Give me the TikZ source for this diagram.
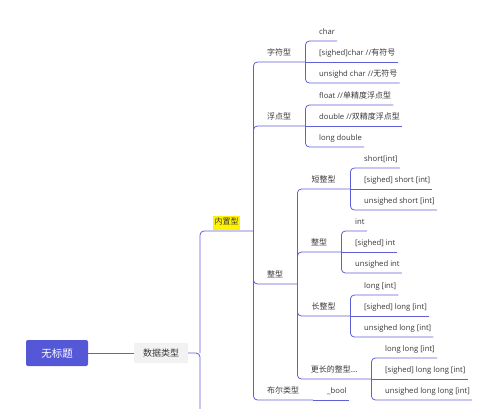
\documentclass[tikz,border=0pt]{standalone}
\usepackage{fontspec}
\newfontfamily\cjk{Noto Sans CJK SC}
\newfontfamily\latf{Open Sans}
\newcommand\zh[1]{{\cjk\fontsize{8}{9}\selectfont #1}}
\definecolor{ln}{HTML}{5F5FD8}
\definecolor{rootc}{HTML}{5558D6}
\definecolor{txt}{HTML}{383838}
\definecolor{dtbg}{HTML}{F2F2F2}
\definecolor{hl}{HTML}{FFF200}
\begin{document}
\begin{tikzpicture}[x=1pt,y=-1pt,
  base/.style={font=\cjk\fontsize{8}{9}\selectfont, text=txt, inner xsep=0pt, inner ysep=4pt, text height=7pt, text depth=2pt, anchor=south west},
  leaf/.style={base, font=\latf\fontsize{7.7}{9}\selectfont, execute at begin node={\hspace*{14pt}}, execute at end node={\hspace*{2pt}}},
  par/.style={base},
  rootbox/.style={fill=rootc, rounded corners=2pt, minimum width=62pt, minimum height=26pt, text=white, font=\cjk\fontsize{10.5}{12}\selectfont, inner sep=0pt},
  dtbox/.style={fill=dtbg, rounded corners=1pt, minimum width=54pt, minimum height=20pt, text=txt, font=\cjk\fontsize{9}{10}\selectfont, inner sep=0pt},
  conn/.style={draw=ln, line width=0.8pt, rounded corners=4pt}]
\useasboundingbox (0,0) rectangle (500,408);
% root and first level
\node[rootbox] (root) at (57,353) {无标题};
\node[dtbox] (dt) at (161,353) {数据类型};
\coordinate (j) at (200,353);
\coordinate (jend) at (200,412);
\node[par, minimum width=53pt] (nz) at (200,231) {\setlength{\fboxsep}{0pt}\colorbox{hl}{\rule[-5pt]{0pt}{14pt}\hspace*{1.5pt}内置型\hspace*{1.5pt}}};
% second level
\node[par, minimum width=52pt] (zf) at (253,62) {字符型};
\node[par, minimum width=52pt] (fd) at (253,126) {浮点型};
\node[par, minimum width=44pt] (zx) at (253,284) {整型};
\node[par, minimum width=60pt] (be) at (253,400) {布尔类型};
% char leaves
\node[leaf] (c1) at (305,41) {char};
\node[leaf] (c2) at (305,62) {[sighed]char //\zh{有符号}};
\node[leaf] (c3) at (305,83) {unsighd char //\zh{无符号}};
% float leaves
\node[leaf] (f1) at (305,105) {float //\zh{单精度浮点型}};
\node[leaf] (f2) at (305,126) {double //\zh{双精度浮点型}};
\node[leaf] (f3) at (305,147) {long double};
% integer sub-branches
\node[par, minimum width=53pt] (dz) at (297,189) {短整型};
\node[par, minimum width=44pt] (zz) at (297,252) {整型};
\node[par, minimum width=53pt] (cz) at (297,316) {长整型};
\node[par, minimum width=74pt] (gz) at (297,379) {更长的整型...};
\node[leaf] (d1) at (350,168) {short[int]};
\node[leaf] (d2) at (350,189) {[sighed] short [int]};
\node[leaf] (d3) at (350,210) {unsighed short [int]};
\node[leaf] (z1) at (341,231) {int};
\node[leaf] (z2) at (341,252) {[sighed] int};
\node[leaf] (z3) at (341,273) {unsighed int};
\node[leaf] (l1) at (350,295) {long [int]};
\node[leaf] (l2) at (350,316) {[sighed] long [int]};
\node[leaf] (l3) at (350,337) {unsighed long [int]};
\node[leaf] (g1) at (371,358) {long long [int]};
\node[leaf] (g2) at (371,379) {[sighed] long long [int]};
\node[leaf] (g3) at (371,400) {unsighed long long [int]};
\node[leaf] (bb) at (313,400) {\_bool};
% connectors
\draw[conn] (root.east) -- (dt.west);
\draw[conn] (dt.east) -- (j) -- (jend);
\draw[conn] (j) |- (nz.south east);
\draw[conn] (nz.south east) |- (zf.south east);
\draw[conn] (nz.south east) |- (fd.south east);
\draw[conn] (nz.south east) |- (zx.south east);
\draw[conn] (nz.south east) |- (be.south east);
\draw[conn] (zf.south east) |- (c1.south east);
\draw[conn] (zf.south east) -- (c2.south east);
\draw[conn] (zf.south east) |- (c3.south east);
\draw[conn] (fd.south east) |- (f1.south east);
\draw[conn] (fd.south east) -- (f2.south east);
\draw[conn] (fd.south east) |- (f3.south east);
\draw[conn] (zx.south east) |- (dz.south east);
\draw[conn] (zx.south east) |- (zz.south east);
\draw[conn] (zx.south east) |- (cz.south east);
\draw[conn] (zx.south east) |- (gz.south east);
\draw[conn] (dz.south east) |- (d1.south east);
\draw[conn] (dz.south east) -- (d2.south east);
\draw[conn] (dz.south east) |- (d3.south east);
\draw[conn] (zz.south east) |- (z1.south east);
\draw[conn] (zz.south east) -- (z2.south east);
\draw[conn] (zz.south east) |- (z3.south east);
\draw[conn] (cz.south east) |- (l1.south east);
\draw[conn] (cz.south east) -- (l2.south east);
\draw[conn] (cz.south east) |- (l3.south east);
\draw[conn] (gz.south east) |- (g1.south east);
\draw[conn] (gz.south east) -- (g2.south east);
\draw[conn] (gz.south east) |- (g3.south east);
\draw[conn] (be.south east) -- (bb.south east);
\end{tikzpicture}
\end{document}
